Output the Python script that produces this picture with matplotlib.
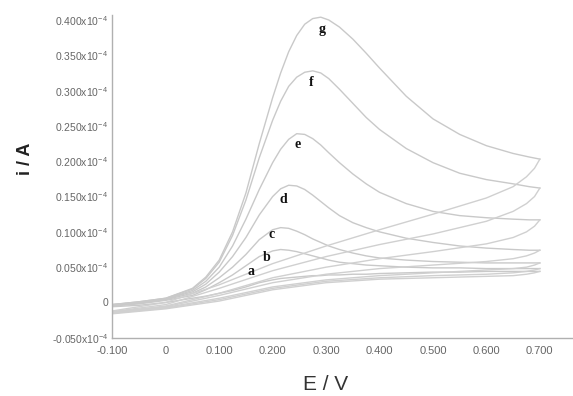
import matplotlib
matplotlib.use("Agg")
import matplotlib.pyplot as plt

# potential grid (V) for the forward and reverse sweeps
E_fwd = [-0.1, -0.05, 0.0, 0.05, 0.075, 0.1, 0.125, 0.15, 0.175, 0.2, 0.215, 0.23, 0.245, 0.26,
         0.275, 0.29, 0.305, 0.325, 0.35, 0.375, 0.4, 0.45, 0.5, 0.55, 0.6, 0.65, 0.68, 0.7]
E_rev = [0.7, 0.69, 0.675, 0.65, 0.6, 0.5, 0.4, 0.3, 0.2, 0.1, 0.0, -0.1]

# currents in units of 1e-4 A
fwd_a = [-0.006, -0.004, 0.0, 0.006, 0.009, 0.013, 0.017, 0.022, 0.028, 0.032, 0.034, 0.035, 0.036, 0.037,
         0.038, 0.038, 0.039, 0.039, 0.040, 0.040, 0.041, 0.042, 0.043, 0.043, 0.044, 0.044, 0.044, 0.044]
fwd_b = [-0.005, -0.002, 0.003, 0.010, 0.018, 0.028, 0.039, 0.052, 0.065, 0.073, 0.075, 0.074, 0.072, 0.069,
         0.066, 0.063, 0.060, 0.057, 0.055, 0.053, 0.052, 0.050, 0.049, 0.049, 0.048, 0.048, 0.048, 0.048]
fwd_c = [-0.004, -0.001, 0.004, 0.013, 0.022, 0.035, 0.050, 0.068, 0.089, 0.103, 0.106, 0.105, 0.101, 0.096,
         0.090, 0.085, 0.080, 0.075, 0.070, 0.066, 0.063, 0.060, 0.058, 0.057, 0.056, 0.056, 0.056, 0.056]
fwd_d = [-0.004, 0.000, 0.005, 0.015, 0.026, 0.043, 0.065, 0.092, 0.124, 0.150, 0.161, 0.166, 0.165, 0.160,
         0.152, 0.143, 0.134, 0.123, 0.113, 0.106, 0.100, 0.091, 0.085, 0.080, 0.077, 0.075, 0.074, 0.074]
fwd_e = [-0.003, 0.000, 0.005, 0.017, 0.030, 0.050, 0.080, 0.118, 0.160, 0.198, 0.217, 0.231, 0.239, 0.238,
         0.232, 0.223, 0.212, 0.198, 0.182, 0.168, 0.156, 0.140, 0.129, 0.123, 0.120, 0.118, 0.117, 0.117]
fwd_f = [-0.003, 0.001, 0.006, 0.019, 0.034, 0.057, 0.095, 0.145, 0.205, 0.258, 0.285, 0.306, 0.319, 0.326,
         0.328, 0.325, 0.317, 0.302, 0.282, 0.262, 0.245, 0.218, 0.198, 0.183, 0.174, 0.168, 0.164, 0.162]
fwd_g = [-0.003, 0.001, 0.006, 0.020, 0.036, 0.060, 0.100, 0.155, 0.225, 0.290, 0.325, 0.355, 0.378, 0.394,
         0.402, 0.404, 0.400, 0.390, 0.373, 0.353, 0.332, 0.292, 0.260, 0.238, 0.222, 0.211, 0.206, 0.203]

rev_a = [0.044, 0.042, 0.040, 0.038, 0.037, 0.035, 0.033, 0.028, 0.018, 0.002, -0.009, -0.016]
rev_b = [0.048, 0.046, 0.044, 0.042, 0.040, 0.038, 0.035, 0.030, 0.020, 0.004, -0.008, -0.015]
rev_c = [0.056, 0.053, 0.050, 0.048, 0.046, 0.042, 0.038, 0.032, 0.022, 0.006, -0.007, -0.015]
rev_d = [0.074, 0.070, 0.066, 0.062, 0.058, 0.053, 0.048, 0.040, 0.028, 0.010, -0.006, -0.014]
rev_e = [0.117, 0.108, 0.100, 0.092, 0.083, 0.072, 0.062, 0.050, 0.035, 0.013, -0.005, -0.014]
rev_f = [0.162, 0.150, 0.140, 0.129, 0.115, 0.097, 0.082, 0.065, 0.045, 0.020, -0.003, -0.013]
rev_g = [0.203, 0.190, 0.178, 0.164, 0.148, 0.125, 0.103, 0.080, 0.055, 0.025, 0.000, -0.012]

curve_names = ['a', 'b', 'c', 'd', 'e', 'f', 'g']
# where the letters sit (E, i)
label_E = [0.160, 0.189, 0.198, 0.220, 0.247, 0.273, 0.292]
label_i = [0.044, 0.064, 0.096, 0.146, 0.223, 0.312, 0.386]

yticks = [-0.05, 0.0, 0.05, 0.10, 0.15, 0.20, 0.25, 0.30, 0.35, 0.40]
ytick_labels = [r'-0.050x10$^{-4}$', '0', r'0.050x10$^{-4}$', r'0.100x10$^{-4}$',
                r'0.150x10$^{-4}$', r'0.200x10$^{-4}$', r'0.250x10$^{-4}$',
                r'0.300x10$^{-4}$', r'0.350x10$^{-4}$', r'0.400x10$^{-4}$']
xticks = [-0.1, 0.0, 0.1, 0.2, 0.3, 0.4, 0.5, 0.6, 0.7]
xtick_labels = ['-0.100', '0', '0.100', '0.200', '0.300', '0.400', '0.500', '0.600', '0.700']

plt.rcParams['font.family'] = ['Liberation Sans', 'DejaVu Sans']
plt.rcParams['mathtext.fontset'] = 'custom'
plt.rcParams['mathtext.rm'] = 'Liberation Sans'

fig = plt.figure(figsize=(5.73, 3.96), dpi=100)
ax = fig.add_axes([0.196, 0.147, 0.804, 0.815])

fwd = [fwd_a, fwd_b, fwd_c, fwd_d, fwd_e, fwd_f, fwd_g]
rev = [rev_a, rev_b, rev_c, rev_d, rev_e, rev_f, rev_g]
for f_i, r_i in zip(fwd, rev):
    ax.plot(E_fwd, f_i, color='#c9c9c9', lw=1.0, solid_joinstyle='round')
    ax.plot(E_rev, r_i, color='#d0d0d0', lw=1.0, solid_joinstyle='round')

for name, xe, yi in zip(curve_names, label_E, label_i):
    ax.text(xe, yi, name, fontsize=10, fontweight='bold', family='Liberation Serif',
            ha='center', va='center', color='#111111')

ax.set_xlim(-0.1, 0.762)
ax.set_ylim(-0.05, 0.407)
ax.set_xticks(xticks)
ax.set_xticklabels(xtick_labels)
ax.set_yticks(yticks)
ax.set_yticklabels(ytick_labels)
ax.tick_params(length=0, colors='#666666')
ax.tick_params(axis='y', labelsize=7.5, pad=3)
ax.tick_params(axis='x', labelsize=8, pad=6)

for s in ['top', 'right']:
    ax.spines[s].set_visible(False)
for s in ['left', 'bottom']:
    ax.spines[s].set_color('#b0b0b0')
    ax.spines[s].set_linewidth(1.0)

fig.text(0.045, 0.60, 'i / A', rotation=90, fontsize=13, fontweight='bold',
         ha='center', va='center', color='#222222')
fig.text(0.569, 0.028, 'E / V', fontsize=15, ha='center', va='center', color='#333333')

fig.savefig('out.png', dpi=100)
